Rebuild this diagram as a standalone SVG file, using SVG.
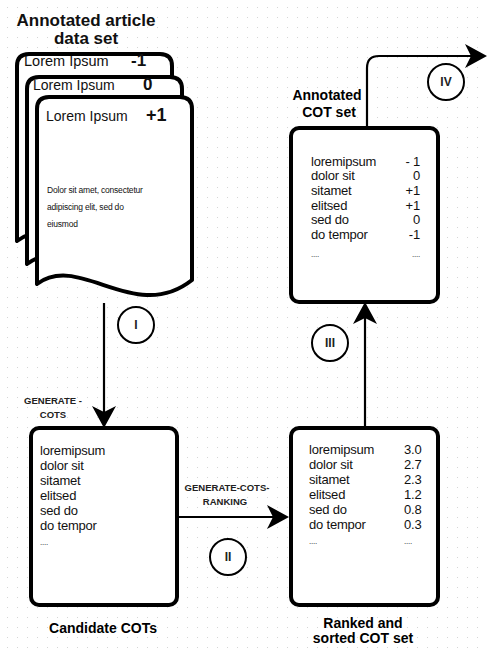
<svg xmlns="http://www.w3.org/2000/svg" width="487" height="648" viewBox="0 0 487 648">
<style>
.box{fill:#fff;stroke:#000;stroke-width:4}
.doc{fill:#fff;stroke:#000;stroke-width:4;stroke-linejoin:round}
.ln{fill:none;stroke:#000;stroke-width:2.2}
.circ{fill:#fff;stroke:#000;stroke-width:2}
.t{font-family:"Liberation Sans",Arial,sans-serif;fill:#111}
.b{font-weight:bold}
.lst{font-size:13px;letter-spacing:-0.2px}
.num{font-family:"Liberation Sans",Arial,sans-serif;font-weight:bold;font-size:12px;text-anchor:middle;fill:#222}
.lab{font-family:"Liberation Sans",Arial,sans-serif;font-weight:bold;font-size:9.5px;fill:#222;text-anchor:middle}
.cap{font-family:"Liberation Sans",Arial,sans-serif;font-weight:bold;font-size:14px;text-anchor:middle;fill:#000}
</style>
<defs>
<pattern id="grid" width="10" height="10" patternUnits="userSpaceOnUse">
<rect x="7" y="7" width="1" height="1" fill="#d6d6d6"/>
</pattern>
<marker id="arr" viewBox="0 0 22 24" refX="6" refY="12" markerWidth="22" markerHeight="24" markerUnits="userSpaceOnUse" orient="auto">
<path d="M0,0 L22,12 L0,24 L6,12 Z" fill="#000"/>
</marker>
<path id="docshape" d="M0,187 V12 Q0,0 12,0 H143 Q155,0 155,12 V183 C98,228 43,155 0,187 Z"/>
</defs>
<rect width="487" height="648" fill="#fff"/>
<rect width="487" height="648" fill="url(#grid)"/>

<g id="title">
<text class="t b" x="86" y="26" font-size="17" text-anchor="middle">Annotated article</text>
<text class="t b" x="86" y="44" font-size="17" text-anchor="middle">data set</text>
</g>

<g id="doc1">
<use href="#docshape" class="doc" transform="translate(17,54)"/>
<text class="t" x="24" y="66" font-size="14.5">Lorem Ipsum</text>
<text class="t b" x="131" y="66" font-size="17">-1</text>
</g>
<g id="doc2">
<use href="#docshape" class="doc" transform="translate(27,77)"/>
<text class="t" x="33" y="90" font-size="14">Lorem Ipsum</text>
<text class="t b" x="143" y="90" font-size="17">0</text>
</g>
<g id="doc3">
<use href="#docshape" class="doc" transform="translate(37,97)"/>
<text class="t" x="46" y="121" font-size="14">Lorem Ipsum</text>
<text class="t b" x="146" y="121" font-size="18">+1</text>
<text class="t" x="47" y="193" font-size="8.5" fill="#333" letter-spacing="-0.2">Dolor sit amet, consectetur</text>
<text class="t" x="47" y="210" font-size="8.5" fill="#333" letter-spacing="-0.2">adipiscing elit, sed do</text>
<text class="t" x="47" y="227" font-size="8.5" fill="#333" letter-spacing="-0.2">eiusmod</text>
</g>

<g id="connectors">
<path class="ln" d="M104,303 V412" marker-end="url(#arr)"/>
<path class="ln" d="M177,517 H273" marker-end="url(#arr)"/>
<path class="ln" d="M365,428 V318" marker-end="url(#arr)"/>
<path class="ln" d="M367,128 V68 Q367,56 379,56 H471" marker-end="url(#arr)"/>
<text class="lab" x="53" y="404">GENERATE -</text>
<text class="lab" x="53" y="418">COTS</text>
<text class="lab" x="227" y="491">GENERATE-COTS-</text>
<text class="lab" x="225" y="505">RANKING</text>
</g>

<g id="step1">
<circle class="circ" cx="136" cy="325" r="18"/>
<text class="num" x="136" y="329">I</text>
</g>
<g id="step2">
<circle class="circ" cx="228" cy="557" r="18"/>
<text class="num" x="228" y="561">II</text>
</g>
<g id="step3">
<circle class="circ" cx="330" cy="343" r="18"/>
<text class="num" x="330" y="347">III</text>
</g>
<g id="step4">
<circle class="circ" cx="446" cy="82" r="18"/>
<text class="num" x="446" y="86">IV</text>
</g>

<g id="candidate">
<rect class="box" x="31" y="428" width="146" height="177" rx="8"/>
<g class="t lst">
<text x="40" y="455">loremipsum</text>
<text x="40" y="470">dolor sit</text>
<text x="40" y="485">sitamet</text>
<text x="40" y="500">elitsed</text>
<text x="40" y="515">sed do</text>
<text x="40" y="530">do tempor</text>
<text x="40" y="545" font-size="8">....</text>
</g>
<text class="cap" x="103" y="633" font-size="13.5">Candidate COTs</text>
</g>

<g id="ranked">
<rect class="box" x="291" y="428" width="147" height="177" rx="8"/>
<g class="t lst">
<text x="309" y="454">loremipsum</text>
<text x="309" y="469">dolor sit</text>
<text x="309" y="484">sitamet</text>
<text x="309" y="499">elitsed</text>
<text x="309" y="514">sed do</text>
<text x="309" y="529">do tempor</text>
<text x="309" y="544" font-size="8">....</text>
<text x="404" y="454">3.0</text>
<text x="404" y="469">2.7</text>
<text x="404" y="484">2.3</text>
<text x="404" y="499">1.2</text>
<text x="404" y="514">0.8</text>
<text x="404" y="529">0.3</text>
<text x="404" y="544" font-size="8">....</text>
</g>
<text class="cap" x="363" y="628">Ranked and</text>
<text class="cap" x="363" y="643">sorted COT set</text>
</g>

<g id="annotated">
<rect class="box" x="291" y="128" width="147" height="174" rx="8"/>
<g class="t lst">
<text x="311" y="166">loremipsum</text>
<text x="311" y="180">dolor sit</text>
<text x="311" y="195">sitamet</text>
<text x="311" y="210">elitsed</text>
<text x="311" y="224">sed do</text>
<text x="311" y="239">do tempor</text>
<text x="311" y="257" font-size="8">....</text>
</g>
<g class="t lst" text-anchor="end">
<text x="420" y="166">- 1</text>
<text x="420" y="180">0</text>
<text x="420" y="195">+1</text>
<text x="420" y="210">+1</text>
<text x="420" y="224">0</text>
<text x="420" y="239">-1</text>
<text x="420" y="257" font-size="8">....</text>
</g>
<text class="cap" x="327" y="100">Annotated</text>
<text class="cap" x="329" y="117">COT set</text>
</g>
</svg>
